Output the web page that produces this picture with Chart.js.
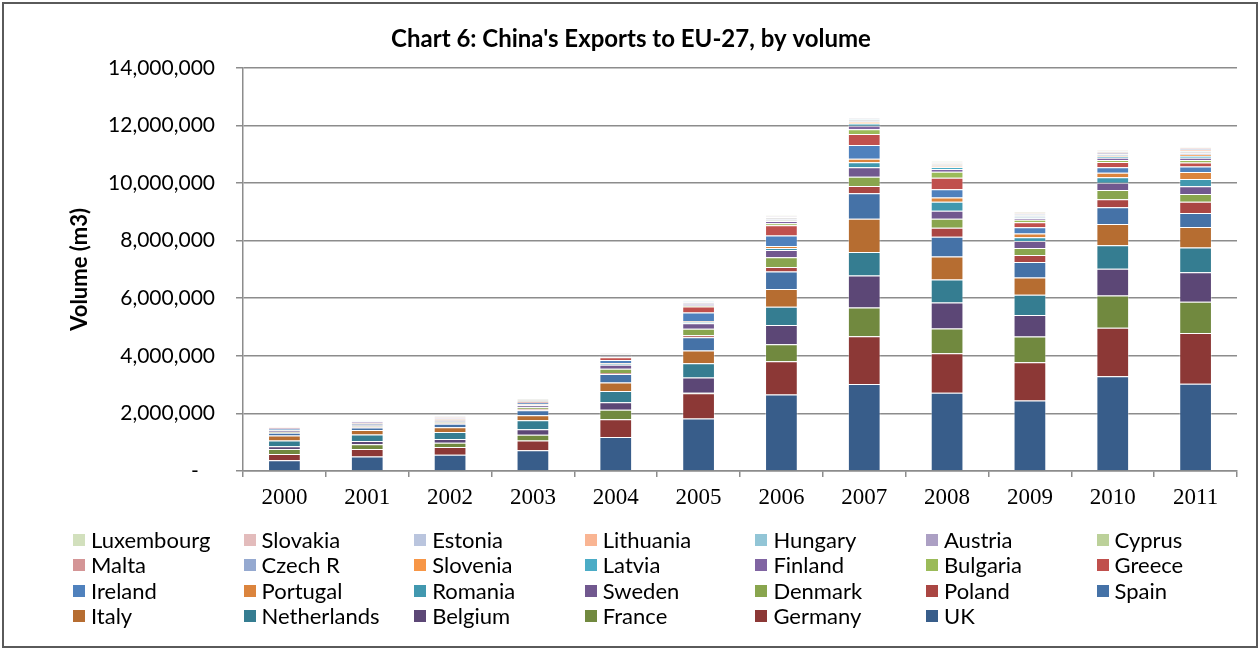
<!DOCTYPE html>
<html>
<head>
<meta charset="utf-8">
<script src="https://cdn.jsdelivr.net/npm/chart.js@4.4.1/dist/chart.umd.min.js"></script>
<style>
html,body{margin:0;padding:0;background:#fff;}
#wrap{position:relative;width:1259px;height:651px;overflow:hidden;}
#c{display:block;}
#frame{position:absolute;left:2px;top:2px;width:1256px;height:646px;box-sizing:border-box;border:2px solid #5a5a5a;pointer-events:none;}
#legend{position:absolute;left:0;top:0;width:1259px;font:22px Lato,sans-serif;color:#000;}
.li{position:absolute;white-space:nowrap;line-height:26px;}
.li i{position:absolute;left:-18px;top:7px;width:12px;height:12px;}
</style>
</head>
<body>
<div id="wrap">
  <canvas id="c" width="1259" height="651"></canvas>
  <div id="legend"></div>
  <div id="frame"></div>
</div>
<script>
// years on the x axis
const years = ['2000','2001','2002','2003','2004','2005','2006','2007','2008','2009','2010','2011'];

// volumes in m3 (bottom of stack first)
const uk          = [370000, 500000, 560000, 720000, 1180000, 1820000, 2660000, 3020000, 2720000, 2450000, 3290000, 3030000];
const germany     = [220000, 260000, 270000, 340000, 620000, 880000, 1150000, 1660000, 1370000, 1330000, 1680000, 1760000];
const france      = [170000, 170000, 150000, 200000, 330000, 20000, 590000, 1000000, 860000, 890000, 1120000, 1090000];
const belgium     = [100000, 110000, 130000, 190000, 260000, 530000, 670000, 1110000, 900000, 750000, 930000, 1020000];
const netherlands = [200000, 230000, 240000, 310000, 390000, 490000, 630000, 810000, 800000, 700000, 820000, 860000];
const italy       = [170000, 150000, 170000, 180000, 290000, 440000, 620000, 1160000, 800000, 600000, 740000, 710000];
const spain       = [100000, 90000, 120000, 170000, 300000, 460000, 610000, 880000, 680000, 540000, 580000, 490000];
const poland      = [10000, 20000, 20000, 40000, 30000, 70000, 150000, 260000, 320000, 240000, 280000, 390000];
const denmark     = [20000, 20000, 30000, 60000, 150000, 230000, 340000, 320000, 310000, 240000, 320000, 270000];
const sweden      = [50000, 40000, 40000, 70000, 140000, 190000, 250000, 330000, 280000, 250000, 250000, 270000];
const romania     = [5000, 10000, 10000, 30000, 40000, 40000, 70000, 170000, 310000, 130000, 190000, 250000];
const portugal    = [10000, 10000, 10000, 20000, 20000, 30000, 70000, 120000, 150000, 130000, 160000, 240000];
const ireland     = [30000, 30000, 30000, 40000, 100000, 300000, 370000, 480000, 280000, 210000, 190000, 190000];
const greece      = [20000, 20000, 20000, 30000, 100000, 210000, 350000, 380000, 400000, 180000, 180000, 140000];
const bulgaria    = [5000, 10000, 10000, 10000, 20000, 40000, 70000, 170000, 210000, 80000, 70000, 90000];
const finland     = [20000, 20000, 20000, 20000, 20000, 40000, 80000, 120000, 100000, 60000, 80000, 80000];
const latvia      = [5000, 10000, 10000, 10000, 10000, 20000, 20000, 80000, 60000, 30000, 40000, 60000];
const slovenia    = [5000, 10000, 10000, 10000, 10000, 10000, 20000, 50000, 30000, 20000, 30000, 40000];
const czechR      = [5000, 10000, 10000, 10000, 10000, 20000, 20000, 20000, 30000, 20000, 30000, 40000];
const malta       = [2000, 5000, 5000, 5000, 5000, 10000, 10000, 10000, 10000, 10000, 10000, 20000];
const cyprus      = [3000, 10000, 10000, 10000, 10000, 10000, 20000, 20000, 20000, 20000, 20000, 20000];
const austria     = [5000, 10000, 10000, 10000, 10000, 20000, 30000, 30000, 30000, 30000, 30000, 30000];
const hungary     = [2000, 5000, 5000, 10000, 10000, 10000, 10000, 10000, 10000, 10000, 20000, 20000];
const lithuania   = [2000, 5000, 5000, 10000, 10000, 10000, 10000, 10000, 20000, 20000, 30000, 40000];
const estonia     = [2000, 5000, 5000, 5000, 10000, 10000, 20000, 20000, 20000, 20000, 20000, 30000];
const slovakia    = [2000, 5000, 5000, 5000, 10000, 10000, 10000, 10000, 20000, 20000, 20000, 30000];
const luxembourg  = [1000, 5000, 5000, 5000, 10000, 10000, 20000, 20000, 20000, 20000, 20000, 20000];

// y axis ticks
const yTicks = [0, 2000000, 4000000, 6000000, 8000000, 10000000, 12000000, 14000000];

const series = [
  ['UK', uk, '#385d8a'], ['Germany', germany, '#8c3836'], ['France', france, '#71893f'],
  ['Belgium', belgium, '#5c4776'], ['Netherlands', netherlands, '#357d91'], ['Italy', italy, '#b66d31'],
  ['Spain', spain, '#4572a7'], ['Poland', poland, '#aa4643'], ['Denmark', denmark, '#89a54e'],
  ['Sweden', sweden, '#71588f'], ['Romania', romania, '#4198af'], ['Portugal', portugal, '#db843d'],
  ['Ireland', ireland, '#4f81bd'], ['Greece', greece, '#c0504d'], ['Bulgaria', bulgaria, '#9bbb59'],
  ['Finland', finland, '#8064a2'], ['Latvia', latvia, '#4bacc6'], ['Slovenia', slovenia, '#f79646'],
  ['Czech R', czechR, '#95a9d0'], ['Malta', malta, '#d49596'], ['Cyprus', cyprus, '#bcd19a'],
  ['Austria', austria, '#aca0c4'], ['Hungary', hungary, '#92c5d6'], ['Lithuania', lithuania, '#f9b593'],
  ['Estonia', estonia, '#bac5de'], ['Slovakia', slovakia, '#e3bcbc'], ['Luxembourg', luxembourg, '#d2e0bd']
];

function draw(){
  const chart = new Chart(document.getElementById('c'), {
    type:'bar',
    data:{
      labels: years,
      datasets: series.map(s=>({label:s[0], data:s[1], backgroundColor:s[2],
        borderColor:'rgba(255,255,255,0.35)', borderWidth:1, barPercentage:1, categoryPercentage:0.395}))
    },
    options:{
      responsive:false, animation:false,
      layout:{padding:{left:25, right:22, top:0, bottom:130}},
      plugins:{
        legend:{display:false}, tooltip:{enabled:false},
        title:{display:true, text:"Chart 6: China's Exports to EU-27, by volume", color:'#000',
          font:{family:'Lato', size:24, weight:'bold'}, padding:{top:25, bottom:14}}
      },
      scales:{
        x:{stacked:true,
          grid:{display:true, drawOnChartArea:false, drawTicks:true, tickLength:6, color:'#8c8c8c', lineWidth:1.5, offset:true},
          border:{color:'#8c8c8c', width:1.5},
          ticks:{color:'#000', font:{family:'Liberation Serif', size:23}, padding:7},
          afterFit: s=>{ s.height = 50; }
        },
        y:{stacked:true, min:0, max:14000000,
          afterBuildTicks: s=>{ s.ticks = yTicks.map(v=>({value:v})); },
          ticks:{color:'#000', font:{family:'Lato', size:21}, padding:21,
            callback: v => v===0 ? '-   ' : v.toLocaleString('en-US')},
          grid:{color:'#8c8c8c', lineWidth:1.5, tickLength:7},
          border:{color:'#8c8c8c', width:1.5},
          title:{display:true, text:'Volume (m3)', color:'#000', font:{family:'Lato', size:22, weight:'bold'}, padding:{top:42, bottom:0}},
          afterFit: s=>{ s.width = 218; }
        }
      }
    }
  });

  // legend: 7 columns, reverse of stack order
  const lg = document.getElementById('legend');
  chart.data.datasets.slice().reverse().forEach((d,k)=>{
    const el = document.createElement('div');
    el.className='li';
    el.style.left = (91 + (k%7)*170.6) + 'px';
    el.style.top = (527 + Math.floor(k/7)*25.4) + 'px';
    el.innerHTML = '<i style="background:'+d.backgroundColor+'"></i>';
    el.appendChild(document.createTextNode(d.label));
    lg.appendChild(el);
  });
}

Promise.all([
  document.fonts.load('22px Lato'), document.fonts.load('bold 22px Lato'), document.fonts.load('23px "Liberation Serif"')
]).catch(()=>{}).then(draw);
</script>
</body>
</html>
